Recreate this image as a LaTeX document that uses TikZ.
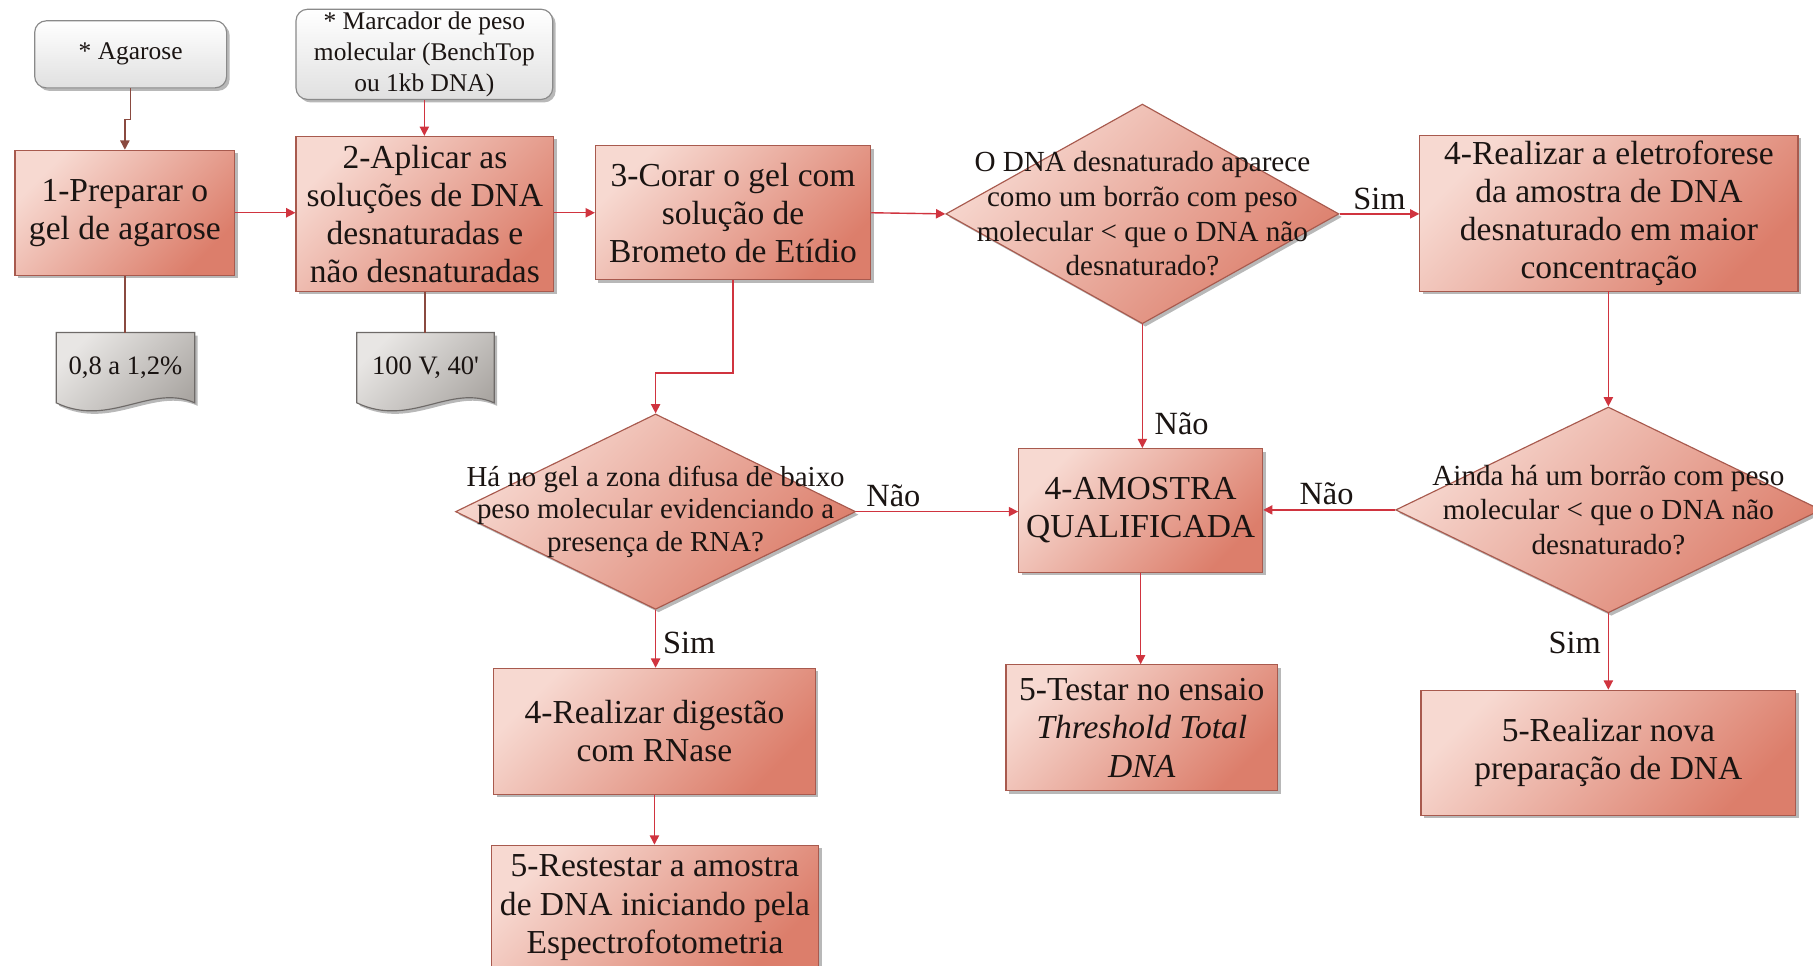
\documentclass[tikz,border=0pt]{standalone}
\usepackage{fontspec}
\setmainfont{Liberation Serif}
\newfontfamily\plainserif{Liberation Serif}
\usetikzlibrary{shapes.geometric,arrows.meta,shadows,backgrounds,calc}

\definecolor{boxlight}{HTML}{F7D9D1}
\definecolor{boxdark}{HTML}{DC7E6B}
\definecolor{boxedge}{HTML}{A85A4E}
\definecolor{linkred}{HTML}{D0343F}
\definecolor{linkbrown}{HTML}{8A4A40}
\definecolor{notelight}{HTML}{FFFFFF}
\definecolor{notedark}{HTML}{E0E0E0}
\definecolor{noteedge}{HTML}{8A8A8A}
\definecolor{doclight}{HTML}{E8E6E4}
\definecolor{docdark}{HTML}{A9A5A1}
\definecolor{docedge}{HTML}{6E6A68}
\definecolor{inktext}{HTML}{1A1412}

\tikzset{
  softshadow/.style={drop shadow={shadow xshift=1.3pt, shadow yshift=-1.3pt, opacity=0.28, fill=black}},
  boxfill/.style={top color=boxlight, bottom color=boxdark, shading angle=45},
  stepbox/.style={rectangle, draw=boxedge, line width=0.5pt, boxfill, softshadow,
    align=center, text=inktext, font=\fontsize{14.5}{16.5}\selectfont, inner sep=2pt},
  decision/.style={diamond, draw=boxedge, line width=0.5pt, boxfill, softshadow, inner sep=0pt},
  dtext/.style={align=center, text=inktext, font=\fontsize{12.6}{15}\selectfont, inner sep=0pt},
  note/.style={rectangle, rounded corners=5pt, draw=noteedge, line width=0.5pt,
    top color=notelight, bottom color=notedark, softshadow, align=center, text=inktext,
    font=\fontsize{11}{13.25}\selectfont, inner sep=1pt},
  docnode/.style={rectangle, inner sep=0pt, text=inktext, font=\plainserif\fontsize{11.5}{13}\selectfont},
  docfill/.style={draw=docedge, line width=0.5pt, top color=doclight, bottom color=docdark,
    shading angle=45, softshadow},
  link/.style={draw=linkred, line width=0.6pt, -{Triangle[length=4pt,width=4pt]}},
  brownlink/.style={draw=linkbrown, line width=0.6pt, -{Triangle[length=4pt,width=4pt]}},
  tie/.style={draw=linkbrown, line width=0.6pt},
  lab/.style={text=inktext, font=\fontsize{14}{16}\selectfont, inner sep=0pt}
}

\begin{document}
\begin{tikzpicture}[x=0.5pt, y=-0.5pt]
  \useasboundingbox (0,0) rectangle (1568,835);

  % supplies and conditions
  \node[note, minimum width=83pt, minimum height=29pt] (agar) at (113,47) {* Agarose};
  \node[note, minimum width=111pt, minimum height=39pt] (marc) at (367,47)
    {* Marcador de peso\\ molecular (BenchTop\\ ou 1kb DNA)};

  % first row of steps
  \node[stepbox, minimum width=95pt, minimum height=54pt] (b1) at (108,184)
    {1-Preparar o\\ gel de agarose};
  \node[stepbox, minimum width=111.5pt, minimum height=67pt] (b2) at (367.5,185)
    {2-Aplicar as\\ soluções de DNA\\ desnaturadas e\\ não desnaturadas};
  \node[stepbox, minimum width=119pt, minimum height=58pt] (b3) at (634,184)
    {3-Corar o gel com\\ solução de\\ Brometo de Etídio};
  \node[decision, minimum width=170pt, minimum height=95pt] (d1) at (988,185) {};
  \node[dtext] (d1t) at (d1.center)
    {O DNA desnaturado aparece\\ como um borrão com peso\\ molecular < que o DNA não\\ desnaturado?};
  \node[stepbox, minimum width=163.5pt, minimum height=67.5pt] (b4a) at (1391.5,184.5)
    {4-Realizar a eletroforese\\ da amostra de DNA\\ desnaturado em maior\\ concentração};

  % documents hanging from steps 1 and 2
  \node[docnode, minimum width=59.5pt, minimum height=30pt] (doc1) at (108.5,318) {0,8 a 1,2\%};
  \node[docnode, minimum width=59pt, minimum height=30pt] (doc2) at (368,318) {100 V, 40'};
  \begin{scope}[on background layer]
    \fill[white] (0,0) rectangle (1568,835);
    \foreach \d in {doc1,doc2}{
      \path[docfill] (\d.north west) -- (\d.north east) -- (\d.south east)
        .. controls +(-38,-17) and +(46,22) .. (\d.south west) -- cycle;
    }
  \end{scope}

  % middle row
  \node[decision, minimum width=173pt, minimum height=84.5pt] (d2) at (567,442.5) {};
  \node[dtext, font=\fontsize{12.5}{14}\selectfont] (d2t) at (d2.center)
    {Há no gel a zona difusa de baixo\\ peso molecular evidenciando a\\ presença de RNA?};
  \node[stepbox, minimum width=105.5pt, minimum height=53.5pt] (q) at (986.5,441.5)
    {4-AMOSTRA\\ QUALIFICADA};
  \node[decision, minimum width=184pt, minimum height=89pt] (d3) at (1391,441) {};
  \node[dtext] (d3t) at (d3.center)
    {Ainda há um borrão com peso\\ molecular < que o DNA não\\ desnaturado?};

  % final steps
  \node[stepbox, minimum width=139pt, minimum height=54.5pt] (b4b) at (566,632.5)
    {4-Realizar digestão\\ com RNase};
  \node[stepbox, minimum width=141.5pt, minimum height=54pt] (b5a) at (566.5,785)
    {5-Restestar a amostra\\ de DNA iniciando pela\\ Espectrofotometria};
  \node[stepbox, minimum width=117.5pt, minimum height=54.5pt] (b5b) at (987.5,629.5)
    {5-Testar no ensaio\\ \textit{Threshold Total}\\ \textit{DNA}};
  \node[stepbox, minimum width=162pt, minimum height=54pt] (b5c) at (1391,651)
    {5-Realizar nova\\ preparação de DNA};

  % connectors
  \draw[brownlink] (agar.south) -- ++(0,27) -| (b1.north);
  \draw[link] (marc.south) -- (marc.south |- b2.north);
  \draw[tie] (b1.south) -- (b1.south |- doc1.north);
  \draw[tie] (b2.south) -- (b2.south |- doc2.north);
  \draw[link] (b1.east) -- (b1.east -| b2.west);
  \draw[link] (b2.east |- b3.west) -- (b3.west);
  \draw[link] (b3.east) -- (d1.west);
  \draw[link] (d1.east) -- (d1.east -| b4a.west)
    node[lab, midway, above=1.5pt] {Sim};
  \draw[link] (b3.south) -- ++(0,80) -| (d2.north);
  \draw[link] (d1.south) -- (d1.south |- q.north)
    node[lab, pos=0.8, anchor=west, xshift=5pt] {Não};
  \draw[link] (d2.east) -- (d2.east -| q.west)
    node[lab, pos=0.23, above=2pt] {Não};
  \draw[link] (d3.west) -- (d3.west -| q.east)
    node[lab, pos=0.52, above=2pt] {Não};
  \draw[link] (b4a.south) -- (b4a.south -| d3.north) -- (d3.north);
  \draw[link] (d2.south) -- (d2.south |- b4b.north)
    node[lab, pos=0.57, anchor=west, xshift=3pt] {Sim};
  \draw[link] (b4b.south) -- (b4b.south |- b5a.north);
  \draw[link] (q.south) -- (q.south |- b5b.north);
  \draw[link] (d3.south) -- (d3.south |- b5c.north)
    node[lab, pos=0.39, anchor=east, xshift=-3pt] {Sim};
\end{tikzpicture}
\end{document}
